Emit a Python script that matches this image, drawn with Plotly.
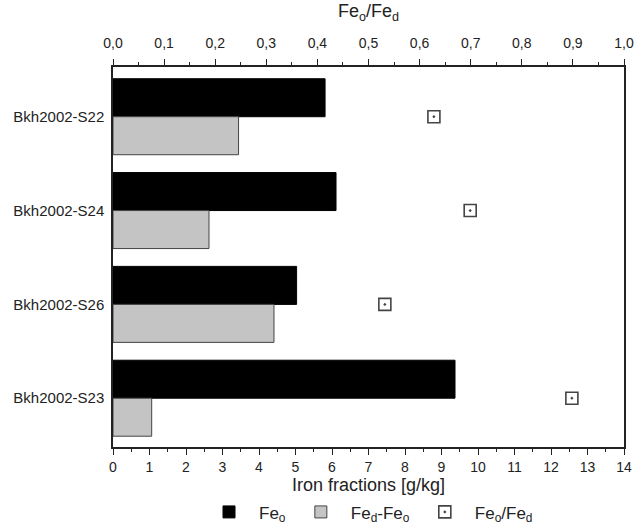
import plotly.graph_objects as go

samples = ["Bkh2002-S22", "Bkh2002-S24", "Bkh2002-S26", "Bkh2002-S23"]
fe_o = [5.81, 6.11, 5.03, 9.37]
fed_minus_feo = [3.44, 2.63, 4.41, 1.06]
feo_fed_ratio = [0.628, 0.699, 0.532, 0.898]

FONT = "Liberation Sans, Arial, sans-serif"

fig = go.Figure()
fig.add_trace(go.Bar(
    y=samples, x=fe_o, orientation="h", name="Fe<sub>o</sub>",
    marker=dict(color="black", line=dict(color="black", width=1)),
    xaxis="x", yaxis="y",
))
fig.add_trace(go.Bar(
    y=samples, x=fed_minus_feo, orientation="h", name="Fe<sub>d</sub>-Fe<sub>o</sub>",
    marker=dict(color="#c4c4c4", line=dict(color="#444444", width=1)),
    xaxis="x", yaxis="y",
))
fig.add_trace(go.Scatter(
    y=samples, x=feo_fed_ratio, mode="markers", name="Fe<sub>o</sub>/Fe<sub>d</sub>",
    marker=dict(symbol="square-open-dot", size=12, color="#444444", line=dict(width=1.6)),
    xaxis="x2", yaxis="y",
))

fig.update_layout(
    width=637, height=529,
    margin=dict(l=113, r=13, t=67, b=82, autoexpand=False),
    paper_bgcolor="white", plot_bgcolor="white",
    font=dict(family=FONT, size=14, color="#222222"),
    separators=",.",
    barmode="group", bargap=0.19, bargroupgap=0.0,
    showlegend=True,
    legend=dict(orientation="h", x=0.5, xanchor="center", y=-0.172, yanchor="middle",
                font=dict(size=17), traceorder="normal", itemwidth=50),
    xaxis=dict(
        range=[0, 14], dtick=1, tick0=0, showgrid=False, zeroline=False, automargin=False,
        showline=True, linecolor="#222222", linewidth=1.5, mirror=False,
        ticks="outside", ticklen=6, tickwidth=1.2, tickcolor="#222222",
        minor=dict(ticks="outside", ticklen=3, dtick=0.5, tickcolor="#222222", tickwidth=1),
        title=dict(text="Iron fractions [g/kg]", font=dict(size=18), standoff=2),
        tickfont=dict(size=14),
    ),
    xaxis2=dict(
        range=[0, 1], dtick=0.1, tick0=0, tickformat=".1f", overlaying="x", side="top",
        showgrid=False, zeroline=False, automargin=False,
        showline=True, linecolor="#222222", linewidth=1.5,
        ticks="outside", ticklen=6, tickwidth=1.2, tickcolor="#222222",
        minor=dict(ticks="outside", ticklen=3, dtick=0.05, tickcolor="#222222", tickwidth=1),
        title=dict(text="Fe<sub>o</sub>/Fe<sub>d</sub>", font=dict(size=18), standoff=12),
        tickfont=dict(size=14), ticklabelstandoff=6,
        anchor="y",
    ),
    yaxis=dict(
        categoryorder="array", categoryarray=samples, automargin=False,
        range=[3.52, -0.53], showgrid=False, zeroline=False,
        showline=True, linecolor="#222222", linewidth=1.5, mirror=True,
        ticks="", tickfont=dict(size=15), ticklabelstandoff=4,
    ),
)

fig.write_html(
    "out.html",
    config={"displayModeBar": False},
    post_script="document.body.style.margin='0';document.body.style.overflow='hidden';",
)
